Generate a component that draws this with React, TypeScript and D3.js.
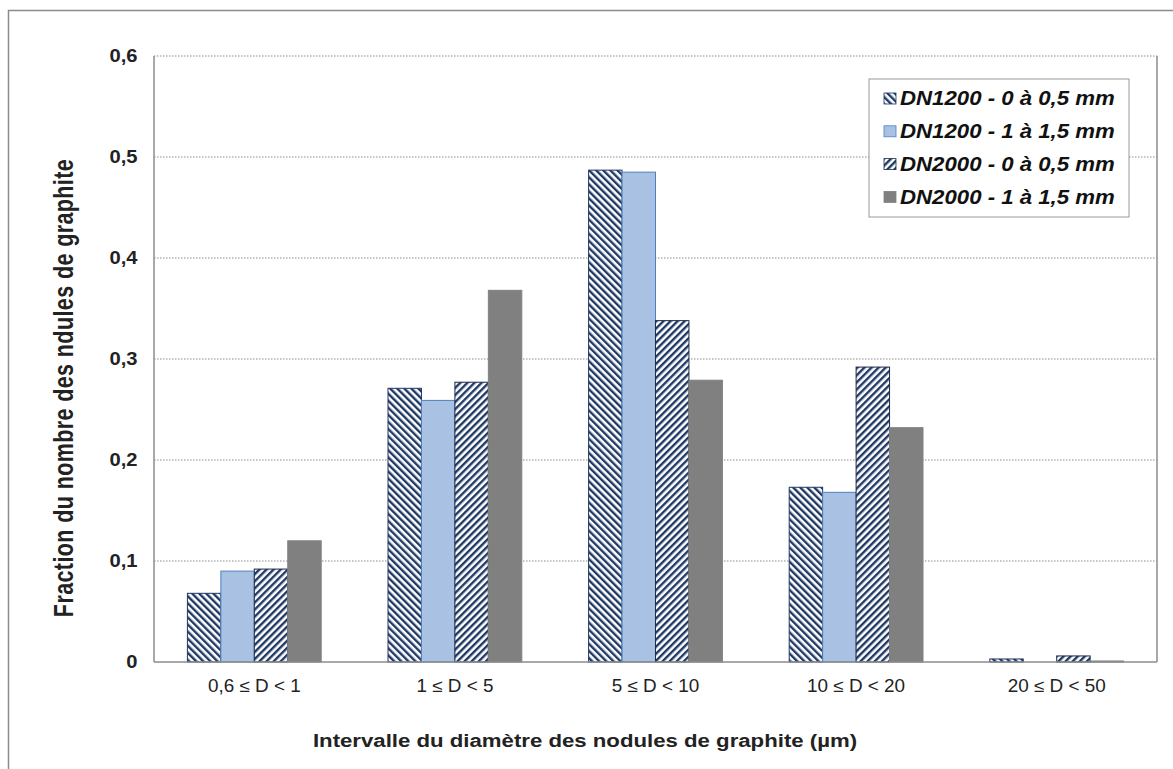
import React from "react";
import * as d3 from "d3";

const categories = ["0,6 ≤ D < 1", "1 ≤ D < 5", "5 ≤ D < 10", "10 ≤ D < 20", "20 ≤ D < 50"];
const seriesNames = [
  "DN1200 - 0 à 0,5 mm",
  "DN1200 - 1 à 1,5 mm",
  "DN2000 - 0 à 0,5 mm",
  "DN2000 - 1 à 1,5 mm",
];
const s1 = [0.068, 0.271, 0.487, 0.173, 0.003];
const s2 = [0.09, 0.259, 0.485, 0.168, 0.0];
const s3 = [0.092, 0.277, 0.338, 0.292, 0.006];
const s4 = [0.12, 0.368, 0.279, 0.232, 0.001];
const seriesValues = [s1, s2, s3, s4];
const yTicks = [0, 0.1, 0.2, 0.3, 0.4, 0.5, 0.6];

const W = 1173;
const H = 769;
const left = 154;
const right = 1157;
const top = 56;
const bottom = 662;

const fills = ["url(#hatchBack)", "#a9c1e3", "url(#hatchFwd)", "#808080"];
const strokes = ["#1f3864", "#4f81bd", "#1f2a44", "#808080"];

export default function App() {
  const x = d3.scaleBand<string>().domain(categories).range([left, right]).paddingInner(0.333).paddingOuter(0.1665);
  const xs = d3.scaleBand<number>().domain([0, 1, 2, 3]).range([0, x.bandwidth()]);
  const y = d3.scaleLinear().domain([0, 0.6]).range([bottom, top]);
  const fmt = (v: number) => (v === 0 ? "0" : d3.format(".1f")(v).replace(".", ","));
  const font = "Arial, 'Liberation Sans', sans-serif";

  return (
    <svg width={W} height={H} style={{ position: "absolute", left: 0, top: 0, background: "#fff" }}>
      <defs>
        <pattern id="hatchBack" patternUnits="userSpaceOnUse" width="5" height="5" patternTransform="rotate(-45)">
          <rect width="5" height="5" fill="#fff" />
          <rect x="0" y="0" width="2.4" height="5" fill="#1f3864" />
        </pattern>
        <pattern id="hatchFwd" patternUnits="userSpaceOnUse" width="5" height="5" patternTransform="rotate(45)">
          <rect width="5" height="5" fill="#fff" />
          <rect x="0" y="0" width="2.4" height="5" fill="#1f3864" />
        </pattern>
      </defs>
      <rect x={8.5} y={10.5} width={W + 20} height={H + 20} fill="#fff" stroke="#8c8c8c" strokeWidth={1.5} />

      {yTicks.slice(1).map((t) => (
        <line key={t} x1={left} x2={right} y1={y(t)} y2={y(t)} stroke="#8a8a8a" strokeWidth={1} strokeDasharray="1.5,1.5" />
      ))}
      <line x1={left} x2={left} y1={top} y2={bottom} stroke="#8c8c8c" strokeWidth={1.5} />
      <line x1={right} x2={right} y1={top} y2={bottom} stroke="#8c8c8c" strokeWidth={1.5} />

      {yTicks.map((t) => (
        <text
          key={t}
          transform={`translate(137.5, ${y(t)}) scale(1.12, 1)`}
          dy="0.35em"
          textAnchor="end"
          fontFamily={font}
          fontWeight="bold"
          fontSize={18}
          fill="#222"
        >
          {fmt(t)}
        </text>
      ))}

      {categories.map((c, i) => (
        <g key={c}>
          {seriesValues.map((vals, si) => (
            <rect
              key={si}
              x={(x(c) as number) + (xs(si) as number)}
              y={y(vals[i])}
              width={xs.bandwidth()}
              height={bottom - y(vals[i])}
              fill={fills[si]}
              stroke={vals[i] > 0 ? strokes[si] : "none"}
              strokeWidth={1}
            />
          ))}
          <text
            transform={`translate(${(x(c) as number) + x.bandwidth() / 2}, 686) scale(1.08, 1)`}
            dy="0.35em"
            textAnchor="middle"
            fontFamily={font}
            fontSize={17.5}
            fill="#222"
          >
            {c}
          </text>
        </g>
      ))}
      <line x1={left} x2={right} y1={bottom} y2={bottom} stroke="#8c8c8c" strokeWidth={1.5} />

      <text
        transform="translate(585, 747) scale(1.2, 1)"
        textAnchor="middle"
        fontFamily={font}
        fontWeight="bold"
        fontSize={18.5}
        fill="#222"
      >
        Intervalle du diamètre des nodules de graphite (µm)
      </text>
      <text
        transform="translate(73, 388) rotate(-90) scale(1, 1.25)"
        textAnchor="middle"
        fontFamily={font}
        fontWeight="bold"
        fontSize={21.5}
        letterSpacing={0.4}
        fill="#222"
      >
        Fraction du nombre des ndules de graphite
      </text>

      <rect x={869} y={79} width={260} height={138} fill="#fff" stroke="#9a9a9a" strokeWidth={1} />
      {seriesNames.map((n, i) => (
        <g key={n} transform={`translate(884, ${98.5 + i * 32.8})`}>
          <rect x={0} y={-5.5} width={12} height={11} fill={fills[i]} stroke={strokes[i]} strokeWidth={0.8} />
          <text
            transform="translate(16, 0) scale(1.14, 1)"
            dy="0.35em"
            fontFamily={font}
            fontWeight="bold"
            fontStyle="italic"
            fontSize={19.5}
            fill="#111"
          >
            {n}
          </text>
        </g>
      ))}
    </svg>
  );
}
